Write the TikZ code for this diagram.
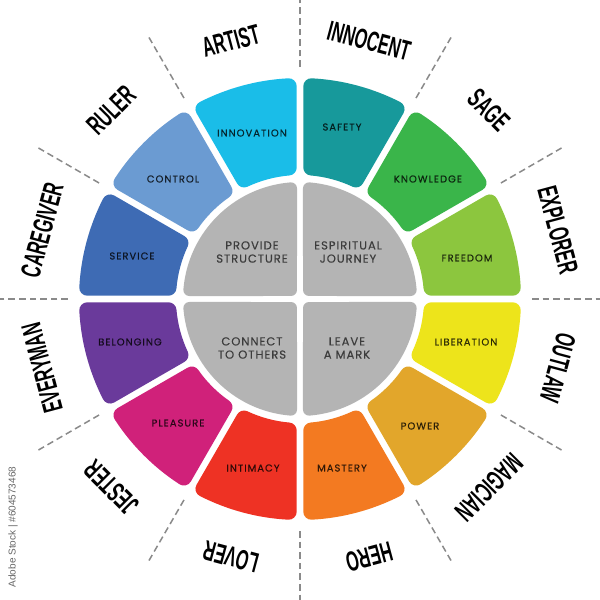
\documentclass[tikz,border=0pt]{standalone}
\usepackage{fontspec}
\setmainfont{Poppins}
\newfontfamily\segfont[LetterSpace=10,FakeBold=0.4]{Poppins}
\newfontfamily\greyfont[LetterSpace=8,FakeBold=0.2]{Poppins}
\newfontfamily\archfont{Liberation Sans}
\newfontfamily\wmfont{Liberation Sans}
\definecolor{cINNO}{HTML}{1ABDE8}
\definecolor{cSAFE}{HTML}{17999B}
\definecolor{cKNOW}{HTML}{3AB54A}
\definecolor{cFREE}{HTML}{8CC63E}
\definecolor{cLIBE}{HTML}{EDE41B}
\definecolor{cPOWE}{HTML}{E2A62B}
\definecolor{cMAST}{HTML}{F37A21}
\definecolor{cINTI}{HTML}{EE3224}
\definecolor{cPLEA}{HTML}{D0217A}
\definecolor{cBELO}{HTML}{6A3A9B}
\definecolor{cSERV}{HTML}{3E6BB4}
\definecolor{cCTRL}{HTML}{6B9BD2}
\definecolor{cGREY}{HTML}{B4B4B4}
\definecolor{cDASH}{HTML}{8A8A8A}
\definecolor{cGTXT}{HTML}{3C3C3C}
\newcommand\archtxt[1]{\scalebox{0.58}[1]{#1}}
\tikzset{
  dashline/.style={cDASH, line width=0.75pt, dash pattern=on 3.3pt off 2pt},
  seglabel/.style={inner sep=0pt, text=black, text opacity=0.75, font=\segfont\fontsize{5}{6}\selectfont},
  greylabel/.style={inner sep=0pt, align=center, text=cGTXT, font=\greyfont\fontsize{5.8}{6.6}\selectfont},
  archlabel/.style={inner sep=0pt, text=black, font=\archfont\bfseries\fontsize{14}{14}\selectfont},
  segshape/.style={line width=8pt, line join=round},
  quadshape/.style={fill=cGREY, draw=cGREY, line width=6pt, line join=round}
}
\begin{document}
\begin{tikzpicture}[x=0.5pt,y=0.5pt]
\fill[white] (-300,-301) rectangle (300,299);
\useasboundingbox (-300,-301) rectangle (300,299);
% dashed dividers
\foreach \a in {0,30,...,330}
  \draw[dashline] (\a:232) -- (\a:302);
% coloured segments
\foreach \a/\col/\txt/\lx/\ly in {
  90/cINNO/INNOVATION/-48/166,
  120/cCTRL/CONTROL/-127/120,
  150/cSERV/SERVICE/-168/43,
  180/cBELO/BELONGING/-170/-43,
  210/cPLEA/PLEASURE/-122/-124,
  240/cINTI/INTIMACY/-47/-169,
  270/cMAST/MASTERY/42/-169,
  300/cPOWE/POWER/120/-127,
  330/cLIBE/LIBERATION/166/-43,
  0/cFREE/FREEDOM/167/41,
  30/cKNOW/KNOWLEDGE/128/120,
  60/cSAFE/SAFETY/42/172}
{
  \filldraw[segshape, fill=\col, draw=\col]
    (\a+4.91:132) -- (\a+3.04:213)
    arc[start angle=\a+3.04, end angle=\a+26.96, radius=213]
    -- (\a+25.09:132)
    arc[start angle=\a+25.09, end angle=\a+4.91, radius=132] -- cycle;
  \node[seglabel] (seg\txt) at (\lx,\ly) {\txt};
}
% grey quadrants
\foreach \q in {0,90,180,270}
  \filldraw[quadshape] (\q+45:12.73) -- (\q+4.65:111)
    arc[start angle=\q+4.65, end angle=\q+85.35, radius=111] -- cycle;
\node[greylabel] (provide) at (-48,47) {PROVIDE\\STRUCTURE};
\node[greylabel] (journey) at (48,47) {ESPIRITUAL\\JOURNEY};
\node[greylabel] (connect) at (-48,-49) {CONNECT\\TO OTHERS};
\node[greylabel] (leave) at (47,-49) {LEAVE\\A MARK};
% archetype names
\foreach \a/\t in {105/ARTIST, 75/INNOCENT, 45/SAGE, 15/EXPLORER, -15/OUTLAW,
  -45/MAGICIAN, -75/HERO, -105/LOVER, -135/JESTER, 195/EVERYMAN,
  165/CAREGIVER, 135/RULER}
  \node[archlabel, rotate=\a-90] (arch\t) at (\a:267) {\archtxt{\t}};
% vertical credit text
\node[rotate=90, inner sep=0pt, text=black!60, font=\wmfont\fontsize{5}{6}\selectfont] (credit) at (-287,-228) {Adobe Stock | \#604573468};
\end{tikzpicture}
\end{document}
